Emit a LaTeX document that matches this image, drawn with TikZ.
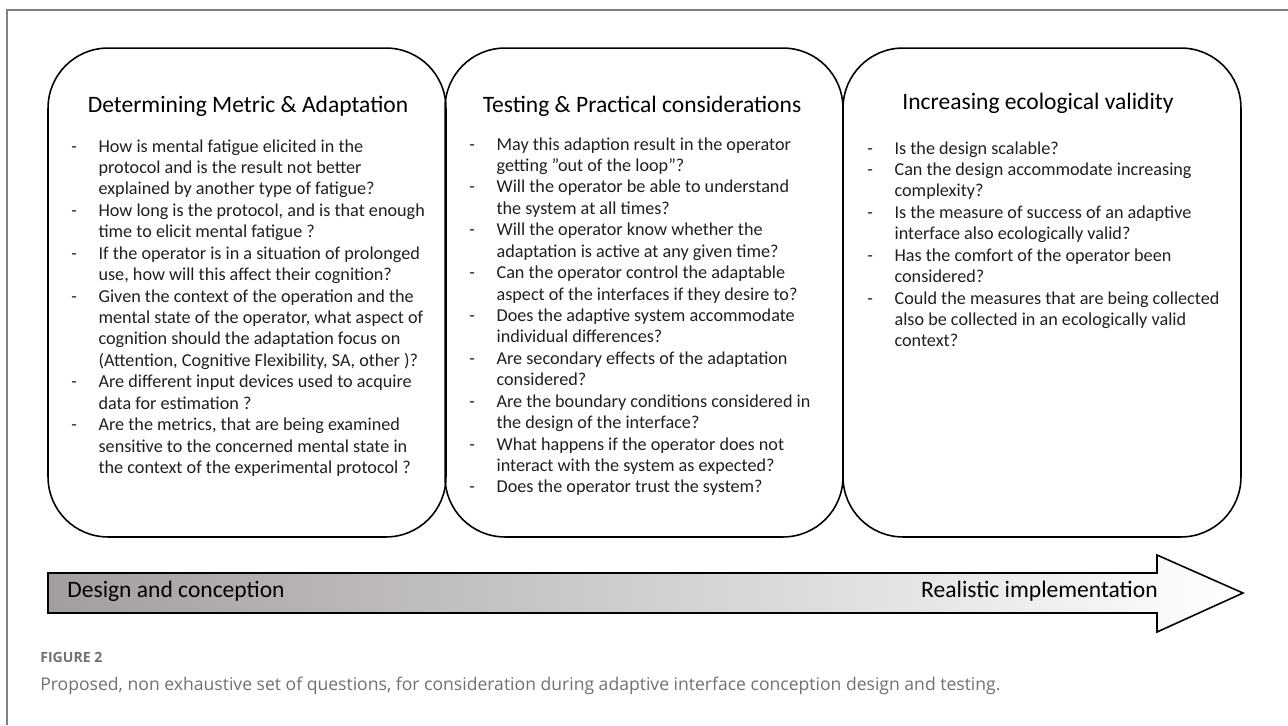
\documentclass[tikz,border=0pt]{standalone}
\usepackage{fontspec}
\setmainfont{Carlito}
\newfontfamily\capfont{Open Sans}
\usetikzlibrary{positioning}

\definecolor{framegray}{RGB}{128,128,128}
\definecolor{capgray}{RGB}{112,112,112}
\definecolor{arrowdark}{RGB}{163,158,158}

% one question: dash + first line, then the following lines
\newcommand{\qi}[1]{-&#1\\}
\newcommand{\qc}[1]{&#1\\}
\newenvironment{qlist}{\fontsize{10.35}{12.2}\selectfont\begin{tabular}[t]{@{}p{15.5pt}@{}l@{}}}{\end{tabular}}

\begin{document}
\begin{tikzpicture}[x=0.02cm,y=-0.02cm,
                    qbox/.style={draw,line width=0.9pt,rounded corners=1.2cm,
                                 minimum width=7.96cm,minimum height=9.78cm},
                    qtitle/.style={anchor=base,inner sep=0pt,
                                   font=\fontsize{13.4}{15}\selectfont},
                    qtext/.style={anchor=base west,inner sep=0pt,text=black!88},
                    axislabel/.style={anchor=base,inner sep=0pt,
                                      font=\fontsize{13.4}{15}\selectfont}]
  \useasboundingbox (0,0) rectangle (1288,725);
  %\draw[red] (0,0) rectangle (1288,725);

  % page frame
  \draw[framegray,line width=0.6pt] (7,725) -- (7,10) -- (1288,10);

  % the three boxes
  \node[qbox] (metric)  at (247,292.5)  {};
  \node[qbox] (testing) at (644,292.5)  {};
  \node[qbox] (valid)   at (1042,292.5) {};

  \node[qtitle] (metricT)  at (248,112)  {Determining Metric \& Adaptation};
  \node[qtitle] (testingT) at (642,112)  {Testing \& Practical considerations};
  \node[qtitle] (validT)   at (1038,109) {Increasing ecological validity};

  \node[qtext] (metricL) at (71,152) {\begin{qlist}
    \qi{How is mental fatigue elicited in the}
    \qc{protocol and is the result not better}
    \qc{explained by another type of fatigue?}
    \qi{How long is the protocol, and is that enough}
    \qc{time to elicit mental fatigue ?}
    \qi{If the operator is in a situation of prolonged}
    \qc{use, how will this affect their cognition?}
    \qi{Given the context of the operation and the}
    \qc{mental state of the operator, what aspect of}
    \qc{cognition should the adaptation focus on}
    \qc{(Attention, Cognitive Flexibility, SA, other )?}
    \qi{Are different input devices used to acquire}
    \qc{data for estimation ?}
    \qi{Are the metrics, that are being examined}
    \qc{sensitive to the concerned mental state in}
    \qc{the context of the experimental protocol ?}
  \end{qlist}};

  \node[qtext] (testingL) at (469,150) {\begin{qlist}
    \qi{May this adaption result in the operator}
    \qc{getting ”out of the loop”?}
    \qi{Will the operator be able to understand}
    \qc{the system at all times?}
    \qi{Will the operator know whether the}
    \qc{adaptation is active at any given time?}
    \qi{Can the operator control the adaptable}
    \qc{aspect of the interfaces if they desire to?}
    \qi{Does the adaptive system accommodate}
    \qc{individual differences?}
    \qi{Are secondary effects of the adaptation}
    \qc{considered?}
    \qi{Are the boundary conditions considered in}
    \qc{the design of the interface?}
    \qi{What happens if the operator does not}
    \qc{interact with the system as expected?}
    \qi{Does the operator trust the system?}
  \end{qlist}};

  \node[qtext] (validL) at (867,154) {\begin{qlist}
    \qi{Is the design scalable?}
    \qi{Can the design accommodate increasing}
    \qc{complexity?}
    \qi{Is the measure of success of an adaptive}
    \qc{interface also ecologically valid?}
    \qi{Has the comfort of the operator been}
    \qc{considered?}
    \qi{Could the measures that are being collected}
    \qc{also be collected in an ecologically valid}
    \qc{context?}
  \end{qlist}};

  % design -> implementation arrow
  \shadedraw[left color=arrowdark,right color=white,line width=0.9pt]
    (48,573) -- (1157,573) -- (1157,555) -- (1243,593) -- (1157,632)
    -- (1157,613) -- (48,613) -- cycle;
  \node[axislabel,anchor=base west] (design) at (67,597) {Design and conception};
  \node[axislabel,anchor=base east] (real) at (1158,597) {Realistic implementation};

  % caption
  \node[anchor=base west,inner sep=0pt,text=capgray,
        font=\capfont\fontsize{8}{10}\selectfont\bfseries] (figno) at (40,662) {FIGURE 2};
  \node[anchor=base west,inner sep=0pt,text=capgray,
        font=\capfont\fontsize{10}{12}\selectfont] (caption) at (40,690)
        {Proposed, non exhaustive set of questions, for consideration during adaptive interface conception design and testing.};
\end{tikzpicture}
\end{document}
